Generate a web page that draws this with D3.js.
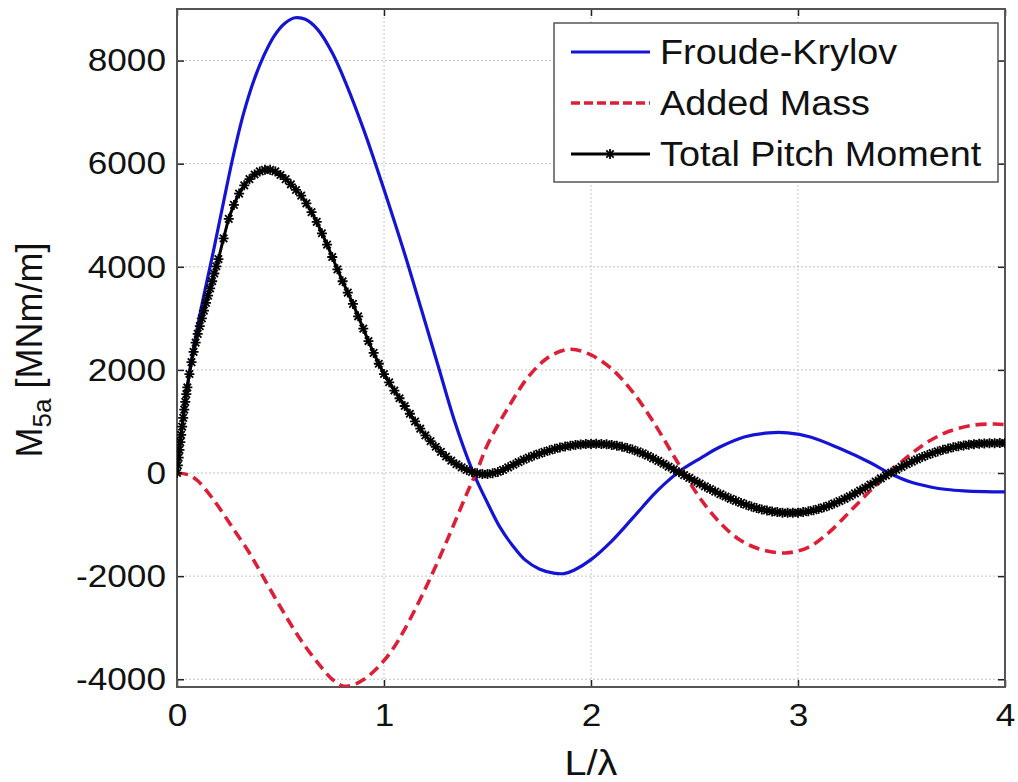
<!DOCTYPE html>
<html><head><meta charset="utf-8">
<script src="https://cdn.jsdelivr.net/npm/d3@7"></script>
<style>
html,body{margin:0;padding:0;background:#fff;}
svg{display:block;font-family:"Liberation Sans",Arial,sans-serif;}
</style></head>
<body>
<svg id="chart" width="1018" height="782"></svg>
<script>
// ---- data ----
const xTicks = [0, 1, 2, 3, 4];
const yTicks = [-4000, -2000, 0, 2000, 4000, 6000, 8000];
const seriesNames = ["Froude-Krylov", "Added Mass", "Total Pitch Moment"];

const fkX = [0,0.03,0.06,0.1,0.13,0.18,0.225,0.27,0.32,0.37,0.42,0.47,0.52,0.57,0.62,0.68,0.75,0.82,0.9,0.95,1.0,1.1,1.18,1.26,1.34,1.42,1.46,1.5,1.56,1.62,1.68,1.75,1.82,1.87,1.92,2.0,2.1,2.2,2.3,2.35,2.43,2.53,2.62,2.74,2.86,2.95,3.06,3.2,3.35,3.44,3.54,3.64,3.72,3.8,3.9,4.0];
const fkY = [0,1100,1950,2850,3450,4380,5260,6120,6950,7600,8100,8480,8720,8830,8800,8600,8150,7520,6680,6100,5500,4250,3180,2100,1020,120,-250,-580,-1050,-1400,-1680,-1860,-1940,-1950,-1880,-1680,-1320,-880,-430,-230,40,290,500,700,780,780,700,480,200,0,-170,-270,-320,-345,-360,-365];

const amX = [0,0.06,0.1,0.15,0.2,0.27,0.35,0.4,0.5,0.6,0.7,0.75,0.8,0.85,0.9,0.95,1.0,1.05,1.1,1.2,1.3,1.4,1.45,1.5,1.6,1.7,1.8,1.9,2.0,2.1,2.2,2.3,2.4,2.45,2.52,2.62,2.72,2.82,2.94,3.05,3.15,3.25,3.35,3.45,3.54,3.63,3.73,3.85,3.95,4.0];
const amY = [0,-40,-150,-380,-650,-1070,-1550,-1900,-2600,-3250,-3780,-4000,-4130,-4110,-4010,-3850,-3640,-3370,-3030,-2240,-1350,-400,50,550,1270,1880,2260,2400,2290,2020,1580,1000,330,0,-450,-950,-1300,-1480,-1550,-1440,-1150,-750,-340,40,350,610,810,930,950,940];

const totX = [0,0.004,0.008,0.012,0.016,0.02,0.025,0.03,0.035,0.04,0.045,0.05,0.06,0.07,0.08,0.09,0.1,0.11,0.12,0.13,0.14,0.15,0.16,0.17,0.18,0.19,0.2,0.225,0.25,0.275,0.3,0.325,0.35,0.375,0.4,0.425,0.45,0.475,0.5,0.525,0.55,0.575,0.6,0.625,0.65,0.675,0.7,0.725,0.75,0.775,0.8,0.825,0.85,0.875,0.9,0.925,0.95,0.975,1.0,1.025,1.05,1.075,1.1,1.125,1.15,1.175,1.2,1.225,1.25,1.275,1.3,1.325,1.35,1.375,1.4,1.425,1.45,1.475,1.5,1.525,1.55,1.575,1.6,1.625,1.65,1.675,1.7,1.725,1.75,1.775,1.8,1.825,1.85,1.875,1.9,1.925,1.95,1.975,2.0,2.025,2.05,2.075,2.1,2.125,2.15,2.175,2.2,2.225,2.25,2.275,2.3,2.325,2.35,2.375,2.4,2.425,2.45,2.475,2.5,2.525,2.55,2.575,2.6,2.625,2.65,2.675,2.7,2.725,2.75,2.775,2.8,2.825,2.85,2.875,2.9,2.925,2.95,2.975,3.0,3.025,3.05,3.075,3.1,3.125,3.15,3.175,3.2,3.225,3.25,3.275,3.3,3.325,3.35,3.375,3.4,3.425,3.45,3.475,3.5,3.525,3.55,3.575,3.6,3.625,3.65,3.675,3.7,3.725,3.75,3.775,3.8,3.825,3.85,3.875,3.9,3.925,3.95,3.975,4.0];
const totY = [0,150,300,450,600,740,900,1070,1230,1380,1530,1660,1920,2150,2350,2530,2700,2850,3000,3150,3300,3440,3580,3720,3870,4010,4150,4550,4930,5200,5420,5580,5700,5790,5850,5880,5880,5850,5780,5700,5600,5490,5380,5230,5060,4870,4650,4430,4190,3950,3720,3500,3280,3040,2800,2560,2330,2120,1920,1760,1600,1450,1300,1150,1000,860,730,620,510,410,320,240,170,110,60,20,-5,-20,-20,-5,20,60,110,160,210,260,300,340,375,410,440,470,495,515,530,545,555,562,565,566,563,556,545,530,510,485,455,420,380,335,285,235,180,125,70,15,-40,-95,-150,-205,-260,-310,-360,-410,-455,-500,-540,-580,-615,-650,-680,-705,-725,-745,-758,-768,-772,-772,-768,-758,-742,-720,-695,-665,-630,-590,-545,-500,-450,-395,-340,-285,-225,-165,-105,-45,10,65,120,170,220,265,310,350,385,420,450,475,500,520,535,550,560,568,574,578,580,582,583];

// ---- layout ----
const L = 177, R = 1005, T = 9, B = 687;
const svg = d3.select("#chart");
const x = d3.scaleLinear().domain([0, 4]).range([L, R]);
const y = d3.scaleLinear().domain([-4150, 9000]).range([B, T]);
const SX = 1.1; // horizontal text stretch seen in the reference
const fmt = d => String(d);

svg.append("defs").append("clipPath").attr("id", "clip")
  .append("rect").attr("x", L).attr("y", T).attr("width", R - L).attr("height", B - T);

// grid
const grid = svg.append("g").attr("stroke", "#c4c4c4").attr("stroke-width", 1).attr("stroke-dasharray", "2,2");
grid.selectAll(".gx").data(xTicks.slice(1, -1)).join("line")
  .attr("x1", d => x(d)).attr("x2", d => x(d)).attr("y1", T).attr("y2", B);
grid.selectAll(".gy").data(yTicks).join("line")
  .attr("x1", L).attr("x2", R).attr("y1", d => y(d)).attr("y2", d => y(d));

// axes (inward ticks, MATLAB style)
function styleAxis(g) {
  g.select(".domain").remove();
  g.selectAll(".tick line").attr("stroke", "#222").attr("stroke-width", 1.5);
  g.selectAll("text").attr("fill", "#111").style("font-size", "32px");
}
svg.append("g").attr("transform", `translate(${L},0)`)
  .call(d3.axisLeft(y).tickValues(yTicks).tickSize(-7).tickPadding(11).tickFormat(fmt))
  .call(styleAxis)
  .call(g => g.selectAll("text").attr("transform", `scale(${SX},1)`));
svg.append("g").attr("transform", `translate(${R},0)`)
  .call(d3.axisRight(y).tickValues(yTicks).tickSize(-7).tickFormat(""))
  .call(styleAxis);
svg.append("g").attr("transform", `translate(0,${B})`)
  .call(d3.axisBottom(x).tickValues(xTicks).tickSize(-7).tickPadding(16).tickFormat(fmt))
  .call(styleAxis)
  .call(g => g.selectAll("text").attr("transform", `scale(${SX},1)`));
svg.append("g").attr("transform", `translate(0,${T})`)
  .call(d3.axisTop(x).tickValues(xTicks).tickSize(-7).tickFormat(""))
  .call(styleAxis);
svg.selectAll(".tick text").each(function () {
  const t = d3.select(this);
  const xv = +t.attr("x") || 0;
  t.attr("x", xv / SX);
});

// box
svg.append("rect").attr("x", L).attr("y", T).attr("width", R - L).attr("height", B - T)
  .attr("fill", "none").attr("stroke", "#555").attr("stroke-width", 2);

// lines
const plot = svg.append("g").attr("clip-path", "url(#clip)");
const line = d3.line().x(d => x(d[0])).y(d => y(d[1])).curve(d3.curveCatmullRom.alpha(0.5));
const fk = d3.zip(fkX, fkY), am = d3.zip(amX, amY), tot = d3.zip(totX, totY);

const BLUE = "#1414d4", RED = "#dc1f36", BLACK = "#000";
plot.append("path").datum(fk).attr("d", line).attr("fill", "none")
  .attr("stroke", BLUE).attr("stroke-width", 3.2).attr("stroke-linejoin", "round");
plot.append("path").datum(am).attr("d", line).attr("fill", "none")
  .attr("stroke", RED).attr("stroke-width", 3.6).attr("stroke-dasharray", "11,6");
plot.append("path").datum(tot).attr("d", line).attr("fill", "none")
  .attr("stroke", BLACK).attr("stroke-width", 3).attr("stroke-linejoin", "round");

const star = "M-5,0L5,0M0,-5L0,5M-3.7,-3.7L3.7,3.7M-3.7,3.7L3.7,-3.7";
plot.append("g").selectAll("path").data(tot).join("path")
  .attr("transform", d => `translate(${x(d[0])},${y(d[1])})`)
  .attr("d", star).attr("stroke", BLACK).attr("stroke-width", 1.8).attr("fill", "none");

// axis labels
const yl = svg.append("text").attr("transform", "translate(42,350) rotate(-90)")
  .attr("text-anchor", "middle").style("font-size", "36px").attr("fill", "#111");
yl.append("tspan").text("M");
yl.append("tspan").text("5a").style("font-size", "26px").attr("dy", 9);
yl.append("tspan").text(" [MNm/m]").attr("dy", -9);

svg.append("text").attr("transform", `translate(${x(2)},775) scale(${SX},1)`)
  .attr("text-anchor", "middle").style("font-size", "36px").attr("fill", "#111").text("L/λ");

// legend
const lg = svg.append("g");
lg.append("rect").attr("x", 554).attr("y", 23).attr("width", 444).attr("height", 159)
  .attr("fill", "#fff").attr("stroke", "#555").attr("stroke-width", 1.5);
const legY = [52, 103, 154];
const styles = [
  {c: BLUE, w: 3.2, dash: null, marker: false},
  {c: RED, w: 3.6, dash: "9,4", marker: false},
  {c: BLACK, w: 3, dash: null, marker: true}
];
seriesNames.forEach((name, i) => {
  const s = styles[i];
  lg.append("line").attr("x1", 571).attr("x2", 650).attr("y1", legY[i]).attr("y2", legY[i])
    .attr("stroke", s.c).attr("stroke-width", s.w).attr("stroke-dasharray", s.dash);
  if (s.marker) lg.append("path").attr("transform", `translate(610,${legY[i]})`)
    .attr("d", star).attr("stroke", BLACK).attr("stroke-width", 1.8);
  lg.append("text").attr("transform", `translate(660,${legY[i] + 12}) scale(1.08,1)`)
    .style("font-size", "35px").attr("fill", "#111").text(name);
});
</script>
</body></html>
